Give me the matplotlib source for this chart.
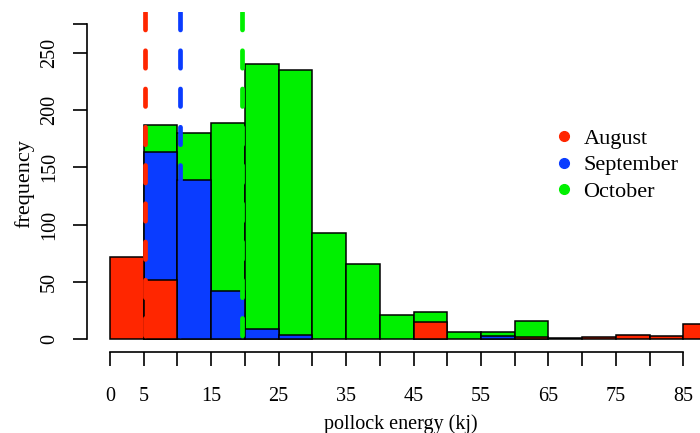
import matplotlib
matplotlib.use("Agg")
import matplotlib.pyplot as plt
from matplotlib.lines import Line2D
import numpy as np

# ---- data ----
bin_edges = list(range(0, 95, 5))          # 0,5,...,90
months = ["August", "September", "October"]
colors = {"August": "#ff2600", "September": "#0a3cff", "October": "#00f000"}

october = [0, 187, 180, 189, 240, 235, 93, 66, 21, 24, 6, 6, 16, 0, 0, 0, 0, 0]
september = [0, 163, 139, 42, 9, 4, 0, 0, 0, 0, 0, 3, 0, 0, 0, 0, 0, 0]
august = [72, 52, 0, 0, 0, 0, 0, 0, 0, 15, 0, 0, 2, 1, 2, 4, 3, 13]

mean_energy = {"August": 5.14, "September": 10.38, "October": 19.52}

x_ticks = list(range(0, 90, 5))
x_ticklabels = ["0", "5", "", "15", "", "25", "", "35", "", "45", "", "55", "", "65", "", "75", "", "85"]
y_ticks = [0, 50, 100, 150, 200, 250, 275]
y_ticklabels = ["0", "50", "100", "150", "200", "250", ""]

plt.rcParams["font.family"] = ["Liberation Serif", "DejaVu Serif"]

fig = plt.figure(figsize=(7.0, 4.33), dpi=100)
ax = fig.add_axes([0.1239, 0.1873, 0.8761, 0.7861])

left = np.array(bin_edges[:-1])
for name, vals in [("October", october), ("September", september), ("August", august)]:
    v = np.array(vals)
    m = v > 0
    ax.bar(left[m], v[m], width=5, align="edge", color=colors[name],
           edgecolor="black", linewidth=1.1, zorder=2)

ylo, yhi = -11, 286
for name in months:
    ln = ax.vlines(mean_energy[name], yhi, ylo, colors=colors[name], linewidth=3.4,
                   linestyles=(0, (3.7, 4.4)), zorder=3)
    ln.set_capstyle("round")

ax.set_xlim(-3.454, 87.47)
ax.set_ylim(ylo, yhi)

for s in ["top", "right"]:
    ax.spines[s].set_visible(False)
ax.spines["left"].set_bounds(0, 275)
ax.spines["bottom"].set_bounds(0, 85)
for s in ["left", "bottom"]:
    ax.spines[s].set_linewidth(1.2)

ax.set_xticks(x_ticks)
ax.set_xticklabels(x_ticklabels)
ax.set_yticks(y_ticks)
ax.set_yticklabels(y_ticklabels, rotation=90, va="center")
ax.tick_params(axis="both", direction="out", length=10, width=1.2, labelsize=14.5)
ax.tick_params(axis="x", pad=15)
ax.tick_params(axis="y", pad=10)

ax.set_xlabel("pollock energy (kj)", fontsize=14.5)
ax.xaxis.set_label_coords(0.5125, -0.182)
ax.set_ylabel("frequency", fontsize=16)
ax.yaxis.set_label_coords(-0.085, 0.496)

handles = [Line2D([], [], marker="o", linestyle="none", markersize=7,
                  markerfacecolor=colors[n], markeredgecolor=colors[n]) for n in months]
leg = ax.legend(handles, months, loc="upper left", bbox_to_anchor=(0.745, 0.6836),
                frameon=False, fontsize=16, handletextpad=0.4, labelspacing=0.28,
                handlelength=1.0, borderaxespad=0)

fig.savefig("out.png", dpi=100)
